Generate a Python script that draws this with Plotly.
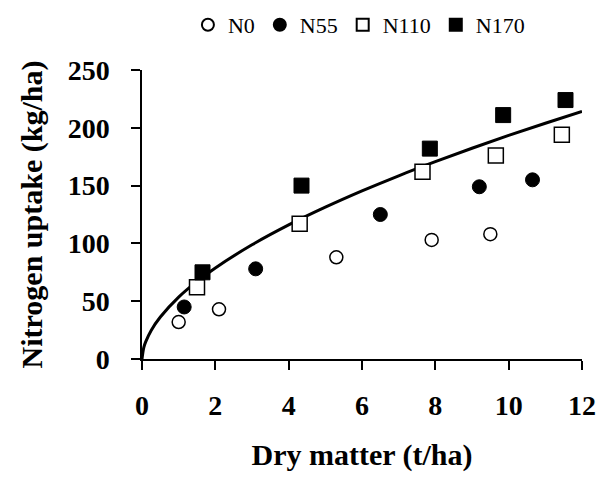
import plotly.graph_objects as go

# Data
n0_x = [1.0, 2.1, 5.3, 7.9, 9.5]
n0_y = [32, 43, 88, 103, 108]
n55_x = [1.15, 3.1, 6.5, 9.2, 10.65]
n55_y = [45, 78, 125, 149, 155]
n110_x = [1.5, 4.3, 7.65, 9.65, 11.45]
n110_y = [62, 117, 162, 176, 194]
n170_x = [1.65, 4.35, 7.85, 9.85, 11.55]
n170_y = [75, 150, 182, 211, 224]

curve_x = [0, 0.05, 0.1, 0.25, 0.5, 1, 1.5, 2, 3, 4, 5, 6, 7, 8, 9, 10, 11, 12]
curve_y = [0, 10.1, 14.8, 24.7, 36.3, 53.5, 67.1, 78.8, 98.8, 116.0, 131.3,
           145.4, 158.5, 170.7, 182.3, 193.4, 203.9, 214.1]

x_ticks = [0, 2, 4, 6, 8, 10, 12]
y_ticks = [0, 50, 100, 150, 200, 250]

FONT = "Liberation Serif"

fig = go.Figure()
fig.add_trace(go.Scatter(x=curve_x, y=curve_y, mode="lines", line=dict(color="black", width=3, shape="spline"),
                         showlegend=False, hoverinfo="skip"))
fig.add_trace(go.Scatter(x=n0_x, y=n0_y, mode="markers", name="N0",
                         marker=dict(symbol="circle", size=13, color="white", line=dict(color="black", width=1.5))))
fig.add_trace(go.Scatter(x=n55_x, y=n55_y, mode="markers", name="N55",
                         marker=dict(symbol="circle", size=14, color="black", line=dict(color="black", width=1))))
fig.add_trace(go.Scatter(x=n110_x, y=n110_y, mode="markers", name="N110",
                         marker=dict(symbol="square", size=15, color="white", line=dict(color="black", width=1.5))))
fig.add_trace(go.Scatter(x=n170_x, y=n170_y, mode="markers", name="N170",
                         marker=dict(symbol="square", size=15, color="black", line=dict(color="black", width=1))))

fig.update_layout(
    width=596, height=478,
    margin=dict(l=142, r=14, t=70, b=119, autoexpand=False),
    paper_bgcolor="white", plot_bgcolor="white",
    font=dict(family=FONT, color="black"),
    legend=dict(orientation="h", x=0.493, xanchor="center", y=1.156, yanchor="middle",
                font=dict(family=FONT, size=22, color="black"), bgcolor="rgba(0,0,0,0)",
                itemwidth=30, itemsizing="constant", tracegroupgap=0),
    xaxis=dict(range=[0, 12], tickvals=x_ticks, ticktext=[str(v) for v in x_ticks],
               showgrid=False, zeroline=False, showline=True, linecolor="black", linewidth=1.5,
               ticks="outside", ticklen=9, tickwidth=1.5, tickcolor="black",
               tickfont=dict(family=FONT, size=28, color="black", weight="bold"),
               ticklabelstandoff=12,
               title=dict(text="Dry matter (t/ha)", font=dict(family=FONT, size=30, color="black", weight="bold"),
                          standoff=24),
               automargin=False),
    yaxis=dict(range=[0, 250], tickvals=y_ticks, ticktext=[str(v) for v in y_ticks],
               showgrid=False, zeroline=False, showline=True, linecolor="black", linewidth=1.5,
               ticks="outside", ticklen=9, tickwidth=1.5, tickcolor="black",
               tickfont=dict(family=FONT, size=28, color="black", weight="bold"),
               ticklabelstandoff=16,
               title=dict(text="Nitrogen uptake (kg/ha)", font=dict(family=FONT, size=30, color="black", weight="bold"),
                          standoff=16),
               automargin=False),
)

fig.write_html("out.html")
